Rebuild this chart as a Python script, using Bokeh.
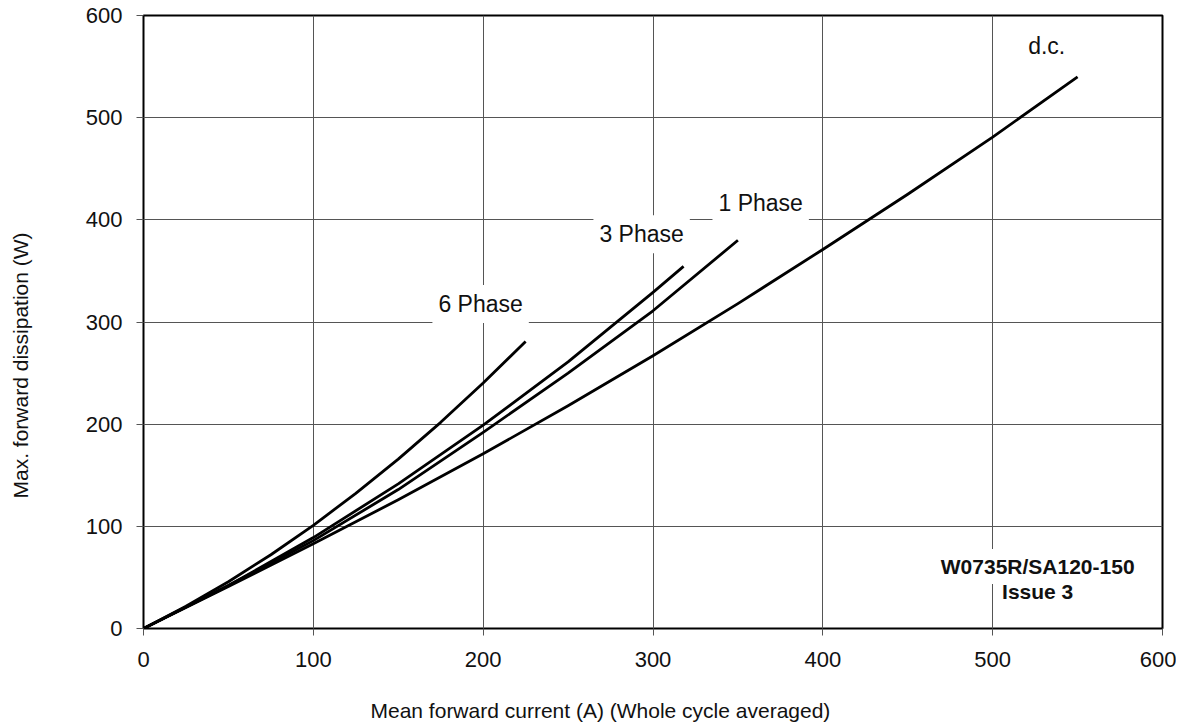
from bokeh.plotting import figure
from bokeh.models import Range1d, FixedTicker, Label, Title
from bokeh.embed import file_html
from bokeh.resources import INLINE

# Data
dc_x = [0, 50, 100, 150, 200, 250, 300, 350, 400, 450, 500, 550]
dc_y = [0, 41, 83, 126, 171, 218, 267, 318, 371, 425, 481, 540]

ph1_x = [0, 50, 100, 150, 200, 250, 300, 350]
ph1_y = [0, 42, 86, 136, 192, 250, 311, 380]

ph3_x = [0, 50, 100, 150, 200, 250, 300, 318]
ph3_y = [0, 42, 89, 141.5, 199, 261, 329, 354.5]

ph6_x = [0, 25, 50, 75, 100, 125, 150, 175, 200, 225]
ph6_y = [0, 21.7, 45.8, 72.2, 101, 132.3, 165.8, 201.8, 240.2, 281]

ticks = [0, 100, 200, 300, 400, 500, 600]

x_title = "Mean forward current (A) (Whole cycle averaged)"
y_title = "Max. forward dissipation (W)"

FONT = "Liberation Sans"

p = figure(width=1176, height=727, output_backend="svg", toolbar_location=None,
           x_range=Range1d(0, 600), y_range=Range1d(0, 600),
           min_border_left=143, min_border_right=14, min_border_top=15, min_border_bottom=99)

p.outline_line_color = "black"
p.outline_line_width = 2
p.background_fill_color = "white"
p.border_fill_color = "white"

for ax in (p.xaxis[0], p.yaxis[0]):
    ax.ticker = FixedTicker(ticks=ticks)
    ax.axis_line_color = None
    ax.major_tick_in = 0
    ax.major_tick_out = 7
    ax.major_tick_line_color = "#555555"
    ax.minor_tick_line_color = None
    ax.major_label_text_font = FONT
    ax.major_label_text_font_size = "22px"
    ax.major_label_text_color = "#111111"
    # blank axis label used only as spacing before the titles
    ax.axis_label = " "
    ax.axis_label_text_font_size = "1px"

p.xaxis.major_label_standoff = 16
p.yaxis.major_label_standoff = 14
p.xaxis.axis_label_standoff = 18
p.yaxis.axis_label_standoff = 42

for g in (p.xgrid[0], p.ygrid[0]):
    g.ticker = FixedTicker(ticks=ticks)
    g.grid_line_color = "#555555"
    g.grid_line_width = 1

for xs, ys in ((dc_x, dc_y), (ph1_x, ph1_y), (ph3_x, ph3_y), (ph6_x, ph6_y)):
    p.line(xs, ys, line_color="black", line_width=2.8, line_join="round")

def lab(x, y, text, bold=False, box=True, size="23px"):
    kw = dict(x=x, y=y, text=text, text_font=FONT, text_font_size=size,
              text_align="center", text_baseline="middle", text_color="#111111",
              text_font_style="bold" if bold else "normal")
    if box:
        kw.update(background_fill_color="white", background_fill_alpha=1.0, padding=6)
    p.add_layout(Label(**kw))

lab(198.5, 317.6, "6 Phase")
lab(293.3, 386, "3 Phase")
lab(363.4, 416, "1 Phase")
lab(531.8, 570, "d.c.", box=False)
lab(526.5, 60.6, "W0735R/SA120-150", bold=True, size="21px")
lab(526.5, 36, "Issue 3", bold=True, size="21px")

# axis titles (offset from the frame centre, as in the reference)
xt = Title(text=x_title, align="left", offset=227, standoff=10,
           text_font=FONT, text_font_size="21px", text_font_style="normal",
           text_color="#111111")
p.add_layout(xt, "below")
yt = Title(text=y_title, align="left", offset=130, standoff=10,
           text_font=FONT, text_font_size="21px", text_font_style="normal",
           text_color="#111111")
p.add_layout(yt, "left")

open("out.html", "w").write(file_html(p, INLINE))
